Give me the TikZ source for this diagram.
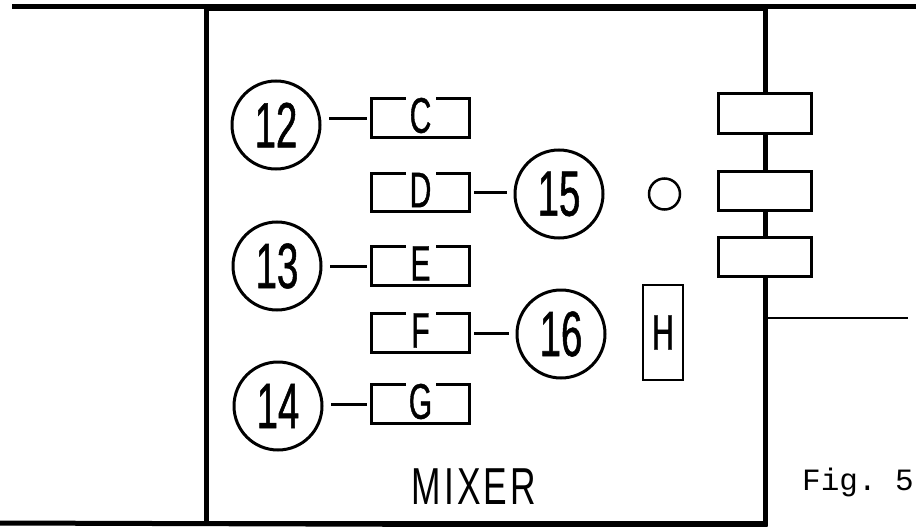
\documentclass[tikz,border=0pt]{standalone}
\usepackage{fontspec}
\newfontfamily\condf[FakeStretch=0.6,FakeBold=0.8]{Liberation Sans}
\newfontfamily\condm[FakeStretch=0.68]{Liberation Sans}
\setmonofont{Liberation Mono}
\newcommand\lettbox[3]{%
  \node[lboxn] (#1) at #2 {};
  \node[ltr] (#1t) at ([yshift=2.5pt]#1.center) {#3};
  \draw[thinline] ([xshift=-15pt]#1.north) -- (#1.north west) -- (#1.south west)
     -- (#1.south east) -- (#1.north east) -- ([xshift=15pt]#1.north);
}
\begin{document}
\begin{tikzpicture}[x=1pt,y=-1pt,
  heavy/.style={line width=5pt},
  thinline/.style={line width=3pt},
  numc/.style={circle, draw, line width=3pt, minimum size=88pt, inner sep=0pt,
    font=\condf\fontsize{64}{64}\selectfont},
  lboxn/.style={rectangle, draw=none, minimum width=97pt, minimum height=38pt, inner sep=0pt},
  ltr/.style={inner sep=0pt, font=\condf\fontsize{50}{50}\selectfont},
  link/.style={line width=3pt, shorten <=5pt, shorten >=7pt},
  sidebox/.style={rectangle, draw, fill=white, line width=3pt, minimum width=93pt,
    minimum height=39pt, inner sep=0pt}]
\useasboundingbox (0,0) rectangle (916,527);
% frame
\node[draw, heavy, minimum width=559pt, minimum height=514pt, inner sep=0pt] (mixer) at (485.5,266) {};
\coordinate (tl) at (12,7);
\coordinate (tr) at (916,7);
\coordinate (bl) at (0,523);
\draw[heavy] (tl) -- (tr);
\draw[heavy] (bl) -- (mixer.south east);
% right side
\coordinate (rend) at (908,318);
\draw[line width=2.5pt] (mixer.east |- rend) -- (rend);
\node[sidebox] (r1) at (764.5,113.5) {};
\node[sidebox] (r2) at (764.5,191) {};
\node[sidebox] (r3) at (764.5,256.5) {};
% circles with numbers
\node[numc] (c12) at (276,125) {12};
\node[numc] (c13) at (277,266) {13};
\node[numc] (c14) at (278,406) {14};
\node[numc] (c15) at (559,194) {15};
\node[numc] (c16) at (561,334) {16};
% lettered boxes
\lettbox{C}{(420.5,118)}{C}
\lettbox{D}{(420.5,192.5)}{D}
\lettbox{E}{(420.5,266)}{E}
\lettbox{F}{(420.5,333)}{F}
\lettbox{G}{(420.5,404)}{G}
% links
\draw[link] (C.west) -- (c12.east |- C.west);
\draw[link] (E.west) -- (c13.east |- E.west);
\draw[link] (G.west) -- (c14.east |- G.west);
\draw[link] (D.east) -- (c15.west |- D.east);
\draw[link] (F.east) -- (c16.west |- F.east);
% small circle and H
\node[circle, draw, line width=2.5pt, minimum size=31pt, inner sep=0pt] (dot) at (664.5,194) {};
\node[rectangle, draw, line width=2.5pt, minimum width=40pt, minimum height=95pt, inner sep=0pt,
  font=\condf\fontsize{50}{50}\selectfont] (H) at (663,332.5) {H};
% labels
\node[inner sep=0pt, font=\condm\fontsize{52}{52}\selectfont\addfontfeature{LetterSpace=6}] (mixlabel) at (474,486.5) {MIXER};
\node[anchor=base west, inner sep=0pt, font=\ttfamily\fontsize{31}{31}\selectfont] (fig) at (802,490) {Fig. 5};
\end{tikzpicture}
\end{document}
